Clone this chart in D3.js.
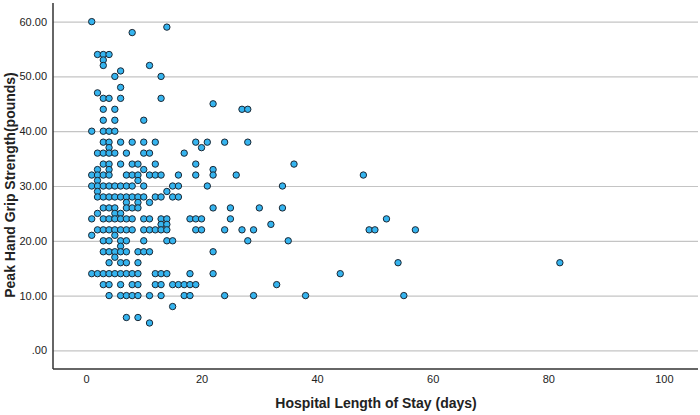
<!DOCTYPE html>
<html>
<head>
<meta charset="utf-8">
<script src="https://cdn.jsdelivr.net/npm/d3@7"></script>
<style>
  body { margin: 0; background: #fff; }
  #chart text { font-family: "Liberation Sans", Arial, sans-serif; }
</style>
</head>
<body>
<div id="chart"></div>
<script>
// grip strength values (pounds) and the stay lengths (days) observed at each one
var gripLevels = [60, 59, 58, 54, 53, 52, 51, 50, 48, 47, 46, 45, 44, 42, 40,
    38, 37, 36, 34, 33, 32, 31, 30, 29, 28, 27, 26, 25, 24, 23, 22, 21, 20,
    19, 18, 17, 16, 14, 12, 10, 8, 6, 5];

var stayDaysAtLevel = [
    [1], [14], [8], [2, 3, 4], [3], [3, 11], [6], [5, 13], [6], [2],
    [3, 4, 6, 13], [22], [3, 5, 27, 28], [3, 5, 10], [1, 3, 4, 5],
    [3, 4, 6, 8, 10, 12, 19, 21, 24, 28],
    [4, 20],
    [2, 3, 4, 5, 7, 10, 11, 17],
    [3, 4, 6, 8, 9, 12, 19, 36],
    [2, 4, 10, 22],
    [1, 2, 3, 4, 7, 8, 9, 11, 12, 13, 16, 19, 22, 26, 48],
    [2, 9],
    [1, 2, 3, 4, 5, 6, 7, 8, 10, 15, 16, 21, 34],
    [2, 14],
    [2, 3, 4, 5, 6, 7, 8, 9, 10, 12, 13, 15, 16],
    [7, 9, 11],
    [3, 4, 5, 7, 8, 9, 22, 25, 30, 34],
    [2, 5, 6],
    [1, 3, 4, 5, 6, 7, 8, 10, 11, 13, 14, 18, 19, 20, 25, 52],
    [13, 14, 32],
    [2, 3, 4, 5, 6, 7, 8, 10, 11, 12, 13, 14, 19, 20, 24, 27, 29, 49, 50, 57],
    [1, 5],
    [3, 4, 6, 7, 10, 14, 15, 28, 35],
    [6],
    [3, 4, 5, 6, 7, 9, 10, 11, 22],
    [5],
    [4, 6, 7, 9, 54, 82],
    [1, 2, 3, 4, 5, 6, 7, 8, 9, 12, 13, 14, 18, 22, 44],
    [3, 4, 6, 8, 9, 12, 13, 15, 16, 17, 18, 19, 33],
    [4, 6, 7, 8, 9, 11, 13, 17, 18, 24, 29, 38, 55],
    [15], [7, 9], [11]
];

var xTicks = [0, 20, 40, 60, 80, 100];
var yTicks = [0, 10, 20, 30, 40, 50, 60];

var xTitle = "Hospital Length of Stay (days)";
var yTitle = "Peak Hand Grip Strength(pounds)";

function drawChart() {
    var margin = { top: 3, right: 2, bottom: 46, left: 53 },
        width = 700 - margin.left - margin.right,
        height = 415 - margin.top - margin.bottom;

    var svg = d3.select("#chart")
        .append("svg")
        .attr("width", 700)
        .attr("height", 415);

    var g = svg.append("g")
        .attr("transform", "translate(" + margin.left + "," + margin.top + ")");

    var x = d3.scaleLinear().domain([-5.7, 105.9]).range([0, width]);
    var y = d3.scaleLinear().domain([-3.4, 63.4]).range([height, 0]);

    // flatten to one record per patient
    var points = [];
    gripLevels.forEach(function (level, i) {
        stayDaysAtLevel[i].forEach(function (days) {
            points.push({ days: days, grip: level });
        });
    });

    // horizontal gridlines
    var grid = g.append("g")
        .call(d3.axisLeft(y).tickValues(yTicks).tickSize(-width).tickFormat(""));
    grid.select(".domain").remove();
    grid.selectAll("line").attr("stroke", "#c4c4c4").attr("stroke-width", 1.2);

    // y tick labels
    var yAxis = g.append("g")
        .call(d3.axisLeft(y).tickValues(yTicks).tickSize(0).tickPadding(6)
            .tickFormat(function (d) { return d === 0 ? ".00" : d.toFixed(2); }));
    yAxis.select(".domain").remove();
    yAxis.selectAll("text").attr("font-size", 11).attr("fill", "#222");

    // x tick labels
    var xAxis = g.append("g")
        .attr("transform", "translate(0," + height + ")")
        .call(d3.axisBottom(x).tickValues(xTicks).tickSize(0).tickPadding(6));
    xAxis.select(".domain").remove();
    xAxis.selectAll("text").attr("font-size", 11).attr("fill", "#222");

    g.selectAll(".dot")
        .data(points)
        .enter().append("circle")
        .attr("class", "dot")
        .attr("cx", function (d) { return x(d.days); })
        .attr("cy", function (d) { return y(d.grip); })
        .attr("r", 3.2)
        .attr("fill", "#35b4ef")
        .attr("stroke", "#1b2733")
        .attr("stroke-width", 1);

    // axis lines
    g.append("line")
        .attr("x1", 0).attr("x2", 0)
        .attr("y1", 0).attr("y2", height)
        .attr("stroke", "#333").attr("stroke-width", 1.5);
    g.append("line")
        .attr("x1", 0).attr("x2", width)
        .attr("y1", height).attr("y2", height)
        .attr("stroke", "#333").attr("stroke-width", 1.5);

    // axis titles
    svg.append("text")
        .attr("x", 376)
        .attr("y", 408)
        .attr("text-anchor", "middle")
        .attr("font-size", 14)
        .attr("font-weight", "bold")
        .attr("fill", "#222")
        .text(xTitle);

    svg.append("text")
        .attr("transform", "translate(15,185) rotate(-90)")
        .attr("text-anchor", "middle")
        .attr("font-size", 14)
        .attr("font-weight", "bold")
        .attr("fill", "#222")
        .text(yTitle);
}

window.onload = drawChart;
</script>
</body>
</html>
